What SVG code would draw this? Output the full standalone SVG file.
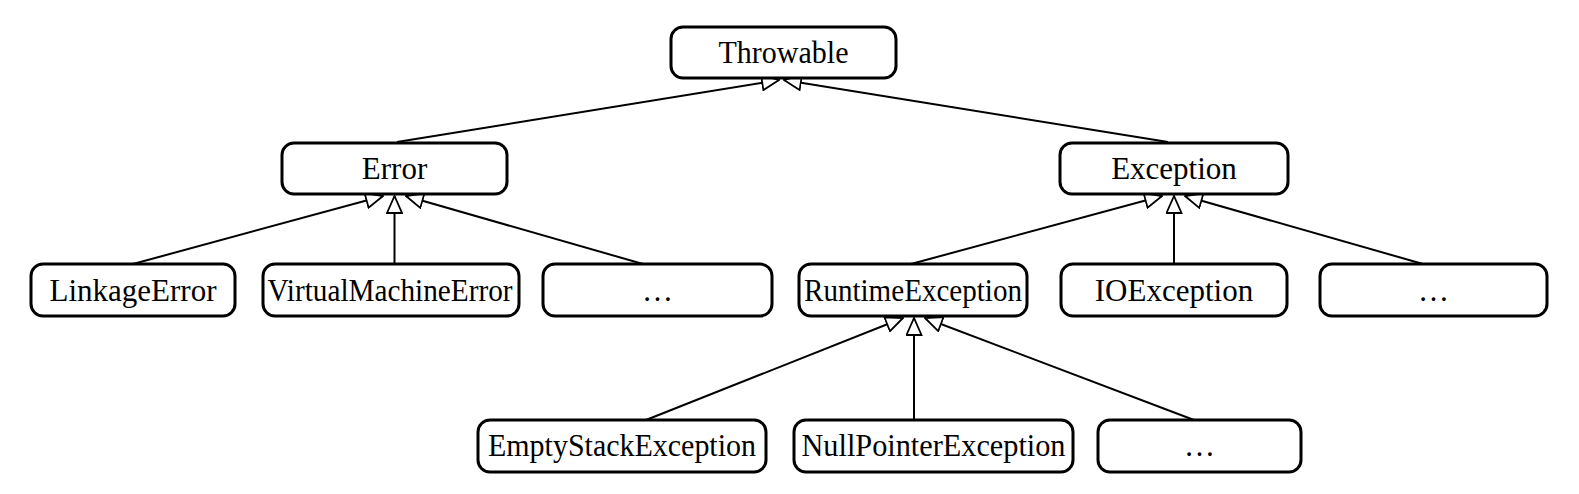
<svg xmlns="http://www.w3.org/2000/svg" width="1579" height="494" viewBox="0 0 1579 494">
<style>
.box{fill:#fff;stroke:#000;stroke-width:3}
.lbl{font-family:"Liberation Serif","Times New Roman",serif;font-size:31px;fill:#000;text-anchor:middle}
.edge{stroke:#000;stroke-width:2;fill:none;marker-end:url(#tri)}
</style>
<defs>
<marker id="tri" viewBox="-1 -1 19 17" refX="17" refY="7.5" markerWidth="19" markerHeight="17" markerUnits="userSpaceOnUse" orient="auto">
<path d="M0,0 L17,7.5 L0,15 Z" fill="#fff" stroke="#000" stroke-width="1.8" stroke-linejoin="miter"/>
</marker>
</defs>
<g id="connectors">
<line class="edge" x1="397" y1="142" x2="779" y2="80"/>
<line class="edge" x1="1168" y1="142" x2="784" y2="80"/>
<line class="edge" x1="133" y1="264" x2="383" y2="196"/>
<line class="edge" x1="394.5" y1="264" x2="394.5" y2="196"/>
<line class="edge" x1="643" y1="264" x2="406" y2="196"/>
<line class="edge" x1="911" y1="264" x2="1162" y2="196"/>
<line class="edge" x1="1174" y1="264" x2="1174" y2="196"/>
<line class="edge" x1="1423" y1="264" x2="1185" y2="196"/>
<line class="edge" x1="646" y1="420" x2="903" y2="318"/>
<line class="edge" x1="914" y1="420" x2="914" y2="318"/>
<line class="edge" x1="1194" y1="420" x2="925" y2="318"/>
</g>
<g id="throwable"><rect class="box" x="671" y="27" width="225" height="51" rx="12"/><text class="lbl" x="783.5" y="63" textLength="130" lengthAdjust="spacingAndGlyphs">Throwable</text></g>
<g id="error"><rect class="box" x="282" y="143" width="225" height="51" rx="12"/><text class="lbl" x="394.5" y="179">Error</text></g>
<g id="exception"><rect class="box" x="1060" y="143" width="228" height="51" rx="12"/><text class="lbl" x="1174" y="179">Exception</text></g>
<g id="linkageerror"><rect class="box" x="31" y="264" width="204" height="52" rx="12"/><text class="lbl" x="133" y="300.5">LinkageError</text></g>
<g id="virtualmachineerror"><rect class="box" x="263" y="264" width="256" height="52" rx="12"/><text class="lbl" x="390" y="300.5" textLength="245" lengthAdjust="spacingAndGlyphs">VirtualMachineError</text></g>
<g id="error-more"><rect class="box" x="543" y="264" width="229" height="52" rx="12"/><text class="lbl" x="657.5" y="300.5">…</text></g>
<g id="runtimeexception"><rect class="box" x="799" y="264" width="228" height="52" rx="12"/><text class="lbl" x="913" y="300.5" textLength="218" lengthAdjust="spacingAndGlyphs">RuntimeException</text></g>
<g id="ioexception"><rect class="box" x="1061" y="264" width="226" height="52" rx="12"/><text class="lbl" x="1174" y="300.5">IOException</text></g>
<g id="exception-more"><rect class="box" x="1320" y="264" width="227" height="52" rx="12"/><text class="lbl" x="1433.5" y="300.5">…</text></g>
<g id="emptystackexception"><rect class="box" x="478" y="420" width="288" height="52" rx="12"/><text class="lbl" x="622" y="456" textLength="268" lengthAdjust="spacingAndGlyphs">EmptyStackException</text></g>
<g id="nullpointerexception"><rect class="box" x="794" y="420" width="279" height="52" rx="12"/><text class="lbl" x="933.5" y="456" textLength="264" lengthAdjust="spacingAndGlyphs">NullPointerException</text></g>
<g id="runtime-more"><rect class="box" x="1098" y="420" width="203" height="52" rx="12"/><text class="lbl" x="1199.5" y="456">…</text></g>
</svg>
